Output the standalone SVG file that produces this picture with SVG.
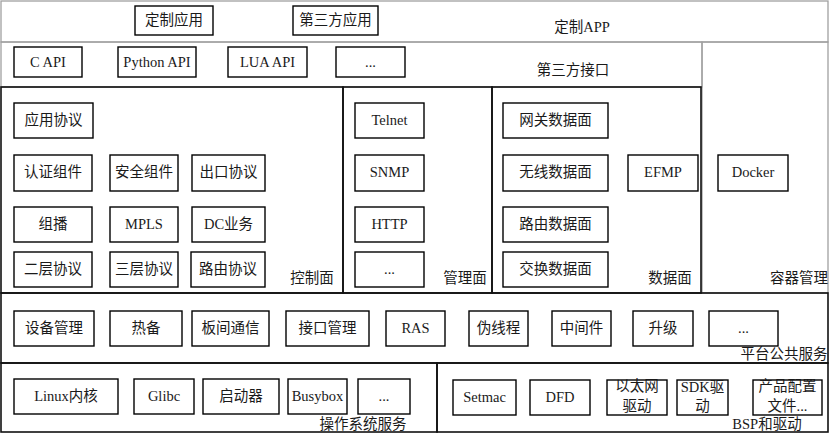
<svg xmlns="http://www.w3.org/2000/svg" width="831" height="434" viewBox="0 0 831 434">
<style>
.b{fill:#fff;stroke:#000;stroke-width:1.4}
.g{fill:none;stroke:#a0a0a0;stroke-width:1.3}
.k{fill:none;stroke:#111;stroke-width:1.6}
text{font-family:"Liberation Serif","Noto Sans CJK SC",serif;font-size:14.5px;fill:#1a1a1a;text-anchor:middle}
.s{font-size:14px}
</style>
<rect width="831" height="434" fill="#fff"/>
<g id="frames">
<rect class="g" x="1" y="1" width="827" height="41"/>
<rect class="g" x="1" y="42" width="701" height="45"/>
<rect class="g" x="702" y="42" width="126" height="251"/>
<rect class="k" x="1" y="87" width="342" height="206"/>
<rect class="k" x="343" y="87" width="149" height="206"/>
<rect class="k" x="492" y="87" width="209" height="206"/>
<rect class="k" x="1" y="293" width="827" height="70"/>
<rect class="k" x="1" y="363" width="436" height="69"/>
<rect class="k" x="437" y="363" width="391" height="69"/>
</g>
<g id="region-labels">
<text x="582" y="32">定制APP</text>
<text x="573" y="75">第三方接口</text>
<text x="312" y="283">控制面</text>
<text x="465" y="283">管理面</text>
<text x="670" y="283">数据面</text>
<text x="799" y="283">容器管理</text>
<text x="784" y="359">平台公共服务</text>
<text x="363" y="429">操作系统服务</text>
<text x="767" y="429">BSP和驱动</text>
</g>
<g id="n-dingzhi"><rect class="b" x="135" y="6" width="78" height="29"/><text x="174" y="25">定制应用</text></g>
<g id="n-disanfang"><rect class="b" x="293" y="6" width="85" height="29"/><text x="335.5" y="25">第三方应用</text></g>
<g id="n-capi"><rect class="b" x="14" y="47" width="68" height="30"/><text x="48" y="67">C API</text></g>
<g id="n-pyapi"><rect class="b" x="118" y="47" width="78" height="30"/><text x="157" y="67">Python API</text></g>
<g id="n-luaapi"><rect class="b" x="228" y="47" width="79" height="30"/><text x="267.5" y="67">LUA API</text></g>
<g id="n-api-more"><rect class="b" x="336" y="47" width="69" height="30"/><text x="370.5" y="67">...</text></g>
<g id="n-yyxy"><rect class="b" x="14" y="103" width="79" height="35"/><text x="53.5" y="125">应用协议</text></g>
<g id="n-rzzj"><rect class="b" x="14" y="155" width="78" height="36"/><text x="53" y="177">认证组件</text></g>
<g id="n-aqzj"><rect class="b" x="110" y="155" width="68" height="36"/><text x="144" y="177">安全组件</text></g>
<g id="n-ckxy"><rect class="b" x="192" y="155" width="73" height="36"/><text x="228.5" y="177">出口协议</text></g>
<g id="n-zb"><rect class="b" x="14" y="207" width="78" height="35"/><text x="53" y="229">组播</text></g>
<g id="n-mpls"><rect class="b" x="110" y="207" width="68" height="35"/><text x="144" y="229">MPLS</text></g>
<g id="n-dc"><rect class="b" x="192" y="207" width="73" height="35"/><text x="228.5" y="229">DC业务</text></g>
<g id="n-l2"><rect class="b" x="14" y="252" width="78" height="35"/><text x="53" y="274">二层协议</text></g>
<g id="n-l3"><rect class="b" x="110" y="252" width="68" height="35"/><text x="144" y="274">三层协议</text></g>
<g id="n-lyxy"><rect class="b" x="191" y="252" width="74" height="35"/><text x="228" y="274">路由协议</text></g>
<g id="n-telnet"><rect class="b" x="355" y="103" width="69" height="35"/><text x="389.5" y="125">Telnet</text></g>
<g id="n-snmp"><rect class="b" x="355" y="155" width="69" height="36"/><text x="389.5" y="177">SNMP</text></g>
<g id="n-http"><rect class="b" x="355" y="207" width="69" height="35"/><text x="389.5" y="229">HTTP</text></g>
<g id="n-mgmt-more"><rect class="b" x="355" y="252" width="69" height="35"/><text x="389.5" y="274">...</text></g>
<g id="n-gwsj"><rect class="b" x="503" y="103" width="105" height="35"/><text x="555.5" y="125">网关数据面</text></g>
<g id="n-wxsj"><rect class="b" x="503" y="155" width="105" height="36"/><text x="555.5" y="177">无线数据面</text></g>
<g id="n-efmp"><rect class="b" x="628" y="155" width="70" height="36"/><text x="663" y="177">EFMP</text></g>
<g id="n-lysj"><rect class="b" x="503" y="207" width="105" height="35"/><text x="555.5" y="229">路由数据面</text></g>
<g id="n-jhsj"><rect class="b" x="503" y="252" width="105" height="35"/><text x="555.5" y="274">交换数据面</text></g>
<g id="n-docker"><rect class="b" x="718" y="155" width="70" height="36"/><text x="753" y="177">Docker</text></g>
<g id="n-sbgl"><rect class="b" x="14" y="311" width="80" height="35"/><text x="54" y="333">设备管理</text></g>
<g id="n-rb"><rect class="b" x="110" y="311" width="72" height="35"/><text x="146" y="333">热备</text></g>
<g id="n-bjtx"><rect class="b" x="192" y="311" width="77" height="35"/><text x="230.5" y="333">板间通信</text></g>
<g id="n-jkgl"><rect class="b" x="286" y="311" width="83" height="35"/><text x="327.5" y="333">接口管理</text></g>
<g id="n-ras"><rect class="b" x="386" y="311" width="59" height="35"/><text x="415.5" y="333">RAS</text></g>
<g id="n-wxc"><rect class="b" x="469" y="311" width="59" height="35"/><text x="498.5" y="333">伪线程</text></g>
<g id="n-zjj"><rect class="b" x="552" y="311" width="59" height="35"/><text x="581.5" y="333">中间件</text></g>
<g id="n-sj"><rect class="b" x="633" y="311" width="60" height="35"/><text x="663" y="333">升级</text></g>
<g id="n-plat-more"><rect class="b" x="709" y="311" width="69" height="35"/><text x="743.5" y="333">...</text></g>
<g id="n-linux"><rect class="b" x="14" y="379" width="104" height="35"/><text x="66" y="401">Linux内核</text></g>
<g id="n-glibc"><rect class="b" x="134" y="379" width="60" height="35"/><text x="164" y="401">Glibc</text></g>
<g id="n-qdq"><rect class="b" x="203" y="379" width="76" height="35"/><text x="241" y="401">启动器</text></g>
<g id="n-busybox"><rect class="b" x="288" y="379" width="59" height="35"/><text x="317.5" y="401">Busybox</text></g>
<g id="n-os-more"><rect class="b" x="358" y="379" width="52" height="35"/><text x="384" y="401">...</text></g>
<g id="n-setmac"><rect class="b" x="453" y="380" width="63" height="35"/><text x="484.5" y="402">Setmac</text></g>
<g id="n-dfd"><rect class="b" x="530" y="380" width="60" height="35"/><text x="560" y="402">DFD</text></g>
<g id="n-ytw"><rect class="b" x="607" y="380" width="60" height="35"/><text x="637" y="391">以太网</text><text x="637" y="411">驱动</text></g>
<g id="n-sdk"><rect class="b" x="677" y="380" width="51" height="35"/><text x="702.5" y="392">SDK驱</text><text x="702.5" y="411">动</text></g>
<g id="n-cppz"><rect class="b" x="753" y="380" width="69" height="35"/><text x="787.5" y="391">产品配置</text><text x="787.5" y="411">文件...</text></g>
<g id="connectors"></g>
</svg>
